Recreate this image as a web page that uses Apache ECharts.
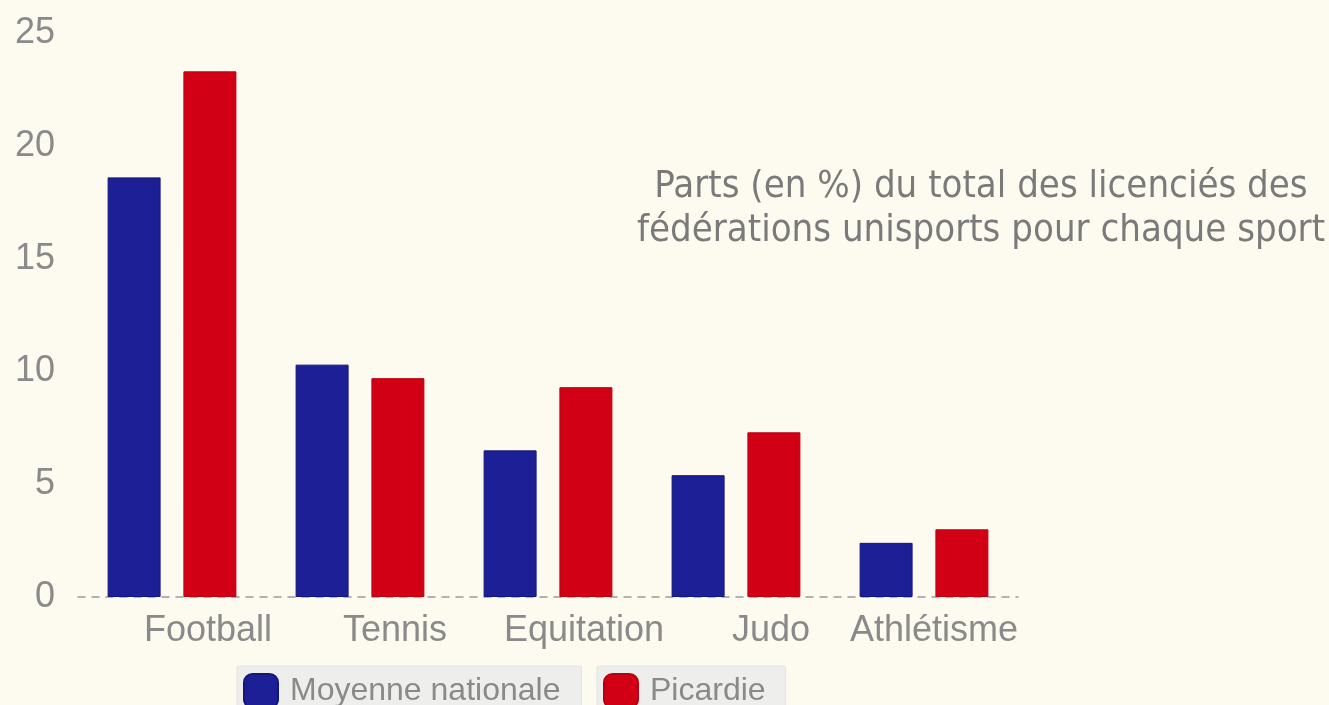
<!DOCTYPE html>
<html>
<head>
<meta charset="utf-8">
<script src="https://cdn.jsdelivr.net/npm/echarts@6/dist/echarts.min.js"></script>
<style>
html,body{margin:0;padding:0;background:#fdfbf0;}
#c{width:1329px;height:705px;}
</style>
</head>
<body>
<div id="c"></div>
<script>
const categories = ['Football', 'Tennis', 'Equitation', 'Judo', 'Athlétisme'];
const seriesNames = ['Moyenne nationale', 'Picardie'];
const moyenneNationale = [18.6, 10.3, 6.5, 5.4, 2.4];
const picardie = [23.3, 9.7, 9.3, 7.3, 3.0];
const yTicks = [0, 5, 10, 15, 20, 25];
const titleLines = ['Parts (en %) du total des licenciés des', 'fédérations unisports pour chaque sport'];

const labelShift = {'Football': 72, 'Tennis': 70, 'Equitation': 72, 'Judo': 70, 'Athlétisme': 20};

const chart = echarts.init(document.getElementById('c'));
const legendCommon = {
  orient: 'horizontal',
  icon: 'roundRect',
  itemWidth: 34,
  itemHeight: 34,
  backgroundColor: '#eeeeec',
  borderColor: '#e2e2e0',
  borderWidth: 1,
  borderRadius: 2,
  selectedMode: false,
  textStyle: {fontFamily: 'Liberation Sans, Arial, sans-serif', fontSize: 32, color: '#8a8a8a', padding: [0, 0, 0, 7]}
};
chart.setOption({
  backgroundColor: '#fdfbf0',
  animation: false,
  title: {
    text: titleLines.join('\n'),
    left: 976,
    top: 160,
    textAlign: 'center',
    textStyle: {fontFamily: '"DejaVu Sans Condensed", "DejaVu Sans", sans-serif', fontWeight: 'normal', fontSize: 38, lineHeight: 44, color: '#7a7a7a'}
  },
  legend: [
    Object.assign({}, legendCommon, {data: [seriesNames[0]], left: 237, top: 666, padding: [7, 21, 7, 6]}),
    Object.assign({}, legendCommon, {data: [seriesNames[1]], left: 597, top: 666, padding: [7, 20, 7, 6]})
  ],
  grid: {left: 78, right: 1329 - 78 - 940, top: 33, bottom: 108, containLabel: false},
  xAxis: {
    type: 'category',
    data: categories.map(c => ({value: c, textStyle: {padding: [0, 0, 0, labelShift[c]]}})),
    axisTick: {show: false},
    axisLine: {show: true, lineStyle: {color: '#9a9a9a', type: [7, 7], width: 1.5}},
    axisLabel: {fontFamily: 'Liberation Sans, Arial, sans-serif', fontSize: 36, color: '#8a8a8a', margin: 16, interval: 0}
  },
  yAxis: {
    type: 'value',
    min: 0, max: 25, interval: 5,
    splitLine: {show: false},
    axisLine: {show: false},
    axisTick: {show: false},
    axisLabel: {fontFamily: 'Liberation Sans, Arial, sans-serif', fontSize: 36, color: '#8a8a8a', margin: 23,
      formatter: v => yTicks.includes(v) ? String(v) : ''}
  },
  series: [
    {name: seriesNames[0], type: 'bar', data: moyenneNationale, barWidth: 53, barGap: '43%',
      itemStyle: {color: '#1c1f96', borderColor: '#14177a', borderWidth: 1}},
    {name: seriesNames[1], type: 'bar', data: picardie, barWidth: 53,
      itemStyle: {color: '#d20015', borderColor: '#b80012', borderWidth: 1}}
  ]
});
</script>
</body>
</html>
